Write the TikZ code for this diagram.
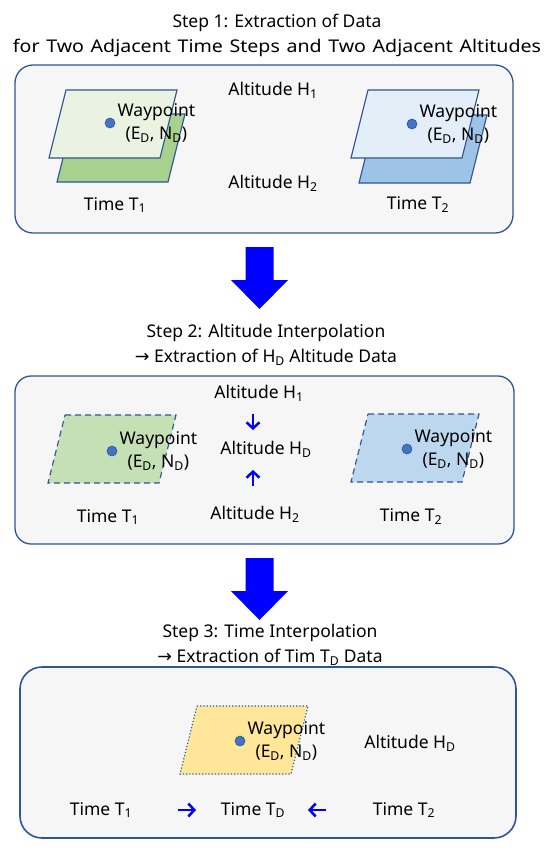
\documentclass[tikz,border=0pt]{standalone}
\usepackage{fontspec}
\setmainfont{Noto Sans}
\newfontfamily\arrowfont{DejaVu Sans}
\newfontfamily\widefont[FakeStretch=1.12, WordSpace=1.3]{Noto Sans}
\usetikzlibrary{arrows.meta, positioning}

\definecolor{frameblue}{HTML}{2F5597}
\definecolor{dotblue}{HTML}{4472C4}
\definecolor{greenlight}{HTML}{EAF3E1}
\definecolor{greenmid}{HTML}{C5E0B4}
\definecolor{greendark}{HTML}{A9D18E}
\definecolor{bluelight}{HTML}{E3EEF9}
\definecolor{bluemid}{HTML}{BDD7EE}
\definecolor{bluedark}{HTML}{9DC3E6}
\definecolor{paleyellow}{HTML}{FFE699}
\definecolor{boxgray}{HTML}{F6F6F6}

\newcommand{\sbs}[1]{\textsubscript{#1}}

\begin{document}
\begin{tikzpicture}[x=1pt, y=-1pt, font=\fontsize{17.5}{22.5}\selectfont,
    stepbox/.style={draw=frameblue, line width=1.3pt, fill=boxgray, rounded corners=18pt},
    plane/.style={draw=frameblue, line width=1.2pt, line join=miter},
    wpdot/.style={circle, fill=dotblue, draw=frameblue, line width=0.6pt, minimum size=10pt, inner sep=0pt},
    wptext/.style={align=center, inner sep=0pt},
    label/.style={inner sep=1pt},
    title/.style={align=center, inner sep=0pt, font=\fontsize{17.5}{25}\selectfont},
    bigarrow/.style={fill=blue, draw=none},
    smallarr/.style={blue, line width=2.5pt, -{Straight Barb[length=6pt, width=13pt]}}]

    \useasboundingbox (0,0) rectangle (550,852);

    % ==========================================
    % MACROS: parallelogram plane and block arrow
    % ==========================================
    \def\planepath{(0,0) -- (111,0) -- (94,68) -- (-17,68) -- cycle}
    \def\arrowpath{(-14,0) -- (14,0) -- (14,33) -- (28.5,33) -- (0,62) -- (-28.5,33) -- (-14,33) -- cycle}

    % ==========================================
    % STEP 1: Extraction of Data
    % ==========================================
    \node[title] (title1) at (277,35) {Step 1: Extraction of Data\\{\widefont for Two Adjacent Time Steps and Two Adjacent Altitudes}};

    \draw[stepbox] (15,65) rectangle (513,233);

    % Time T1 planes
    \draw[plane, fill=greendark, shift={(74,114)}] \planepath;
    \draw[plane, fill=greenlight, shift={(66,90)}] \planepath;
    \node[wpdot] (dotA) at (110,123) {};
    \node[wptext, right=2pt of dotA] (wpA) {Waypoint\\(E\sbs{D}, N\sbs{D})};

    % Time T2 planes
    \draw[plane, fill=bluedark, shift={(376,115)}] \planepath;
    \draw[plane, fill=bluelight, shift={(368,90)}] \planepath;
    \node[wpdot] (dotB) at (412,124) {};
    \node[wptext, right=2pt of dotB] (wpB) {Waypoint\\(E\sbs{D}, N\sbs{D})};

    \node[label] (altA1) at (273,90) {Altitude H\sbs{1}};
    \node[label] (altA2) at (273,183) {Altitude H\sbs{2}};
    \node[label] (timeA1) at (115,205) {Time T\sbs{1}};
    \node[label] (timeA2) at (418,205) {Time T\sbs{2}};

    % Transition arrow
    \fill[bigarrow, shift={(259.5,247)}] \arrowpath;

    % ==========================================
    % STEP 2: Altitude Interpolation
    % ==========================================
    \node[title] (title2) at (266,345) {Step 2: Altitude Interpolation\\{\arrowfont →} Extraction of H\sbs{D} Altitude Data};

    \draw[stepbox, rounded corners=16pt] (15,376) rectangle (514,544);

    \draw[plane, dash pattern=on 6pt off 4pt, fill=greenmid, shift={(65,415)}] \planepath;
    \node[wpdot] (dotC) at (112,451) {};
    \node[wptext, right=2pt of dotC] (wpC) {Waypoint\\(E\sbs{D}, N\sbs{D})};

    \draw[plane, dash pattern=on 6pt off 4pt, fill=bluemid, shift={(368,414)}] \planepath;
    \node[wpdot] (dotD) at (407,449) {};
    \node[wptext, right=2pt of dotD] (wpD) {Waypoint\\(E\sbs{D}, N\sbs{D})};

    \node[label] (altB1) at (259,393) {Altitude H\sbs{1}};
    \node[label] (altBD) at (266,449) {Altitude H\sbs{D}};
    \node[label] (altB2) at (255,514) {Altitude H\sbs{2}};
    \node[label] (timeB1) at (108,517) {Time T\sbs{1}};
    \node[label] (timeB2) at (411,517) {Time T\sbs{2}};

    \coordinate (downS) at (253,414);
    \coordinate (downE) at (253,430);
    \coordinate (upS) at (253,486);
    \coordinate (upE) at (253,470);
    \draw[smallarr] (downS) -- (downE);
    \draw[smallarr] (upS) -- (upE);

    % Transition arrow
    \fill[bigarrow, shift={(259.5,558)}] \arrowpath;

    % ==========================================
    % STEP 3: Time Interpolation
    % ==========================================
    \node[title] (title3) at (270,645) {Step 3: Time Interpolation\\{\arrowfont →} Extraction of Tim T\sbs{D} Data};

    \draw[stepbox, line width=1.6pt, rounded corners=22pt] (20,667) rectangle (516,838);

    \draw[plane, dotted, fill=paleyellow, shift={(197,706)}] \planepath;
    \node[wpdot] (dotE) at (240,741) {};
    \node[wptext, right=2pt of dotE] (wpE) {Waypoint\\(E\sbs{D}, N\sbs{D})};

    \node[label] (altCD) at (410,743) {Altitude H\sbs{D}};
    \node[label] (timeC1) at (101,810) {Time T\sbs{1}};
    \node[label] (timeCD) at (253,810) {Time T\sbs{D}};
    \node[label] (timeC2) at (404,810) {Time T\sbs{2}};

    \coordinate (rightS) at (178,810);
    \coordinate (rightE) at (196,810);
    \coordinate (leftS) at (326,810);
    \coordinate (leftE) at (308,810);
    \draw[smallarr] (rightS) -- (rightE);
    \draw[smallarr] (leftS) -- (leftE);

\end{tikzpicture}
\end{document}
